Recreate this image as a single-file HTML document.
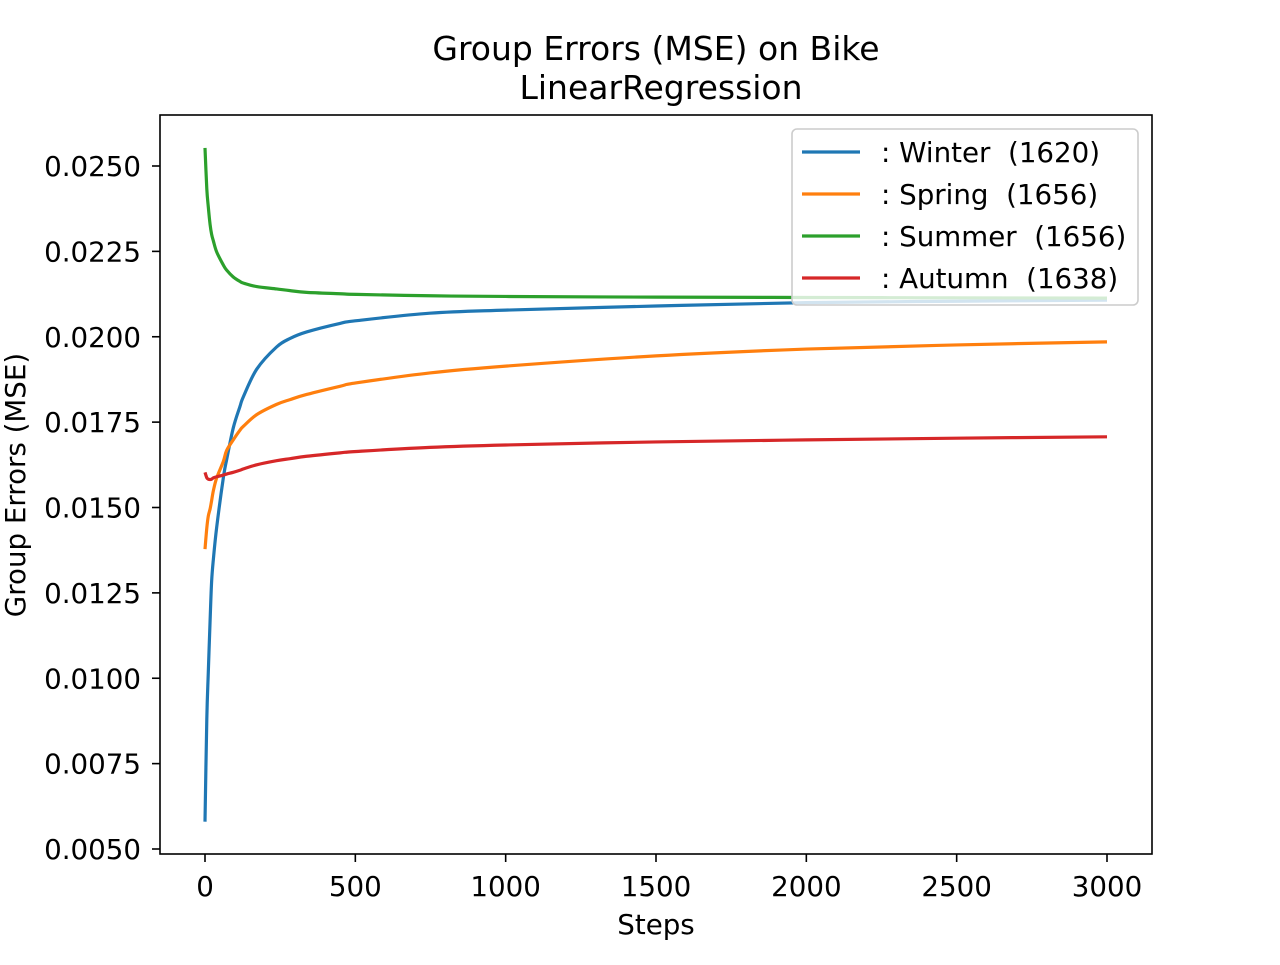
<!DOCTYPE html>
<html><head><meta charset="utf-8"><style>
body{margin:0;background:#fff}
svg text{font-family:"DejaVu Sans","Liberation Sans",sans-serif;fill:#000}
</style></head><body>
<svg id="chart" width="1280" height="960">
<text x="656" y="60" font-size="33" text-anchor="middle">Group Errors (MSE) on Bike</text>
<text x="661" y="99" font-size="33" text-anchor="middle">LinearRegression</text>
<text x="656" y="934" font-size="27.7" text-anchor="middle">Steps</text>
<text transform="translate(25,485) rotate(-90)" font-size="27.7" text-anchor="middle">Group Errors (MSE)</text>
<g id="ticks"></g>
<g id="lines"></g>
<rect x="160" y="115" width="992" height="739" fill="none" stroke="#000" stroke-width="1.6"/>
<g id="legend"></g>
</svg>
<script>
const xTicks=[0,500,1000,1500,2000,2500,3000];
const yTicks=[0.0050,0.0075,0.0100,0.0125,0.0150,0.0175,0.0200,0.0225,0.0250];
const steps=[0,6,11,17,22,28,39,61,72,94,116,128,172,238,283,338,449,504,748,1000,1500,2000,2500,3000];
const winter=[0.0058,0.0088,0.01018,0.0117,0.01283,0.0135,0.01443,0.01587,0.0164,0.01733,0.01795,0.01825,0.01905,0.0197,0.01995,0.02014,0.02039,0.02047,0.02069,0.02078,0.0209,0.021,0.02104,0.02107];
const spring=[0.01378,0.0144,0.01475,0.01496,0.0152,0.0155,0.01587,0.01635,0.01667,0.01698,0.01726,0.01738,0.01772,0.01802,0.01816,0.01831,0.01855,0.01865,0.01894,0.01914,0.01944,0.01964,0.01976,0.01985];
const summer=[0.02553,0.02433,0.0238,0.02328,0.023,0.0228,0.02248,0.0221,0.02195,0.02175,0.02162,0.02157,0.02147,0.0214,0.02135,0.0213,0.02126,0.02124,0.0212,0.02118,0.02116,0.02115,0.02114,0.02113];
const autumn=[0.01603,0.01587,0.01583,0.01582,0.01583,0.01587,0.0159,0.01595,0.01598,0.01603,0.01609,0.01613,0.01625,0.01637,0.01643,0.0165,0.0166,0.01664,0.01676,0.01683,0.01692,0.01698,0.01703,0.01707];
const names=[": Winter  (1620)",": Spring  (1656)",": Summer  (1656)",": Autumn  (1638)"];
const colors=["#1f77b4","#ff7f0e","#2ca02c","#d62728"];
const series=[winter,spring,summer,autumn];
const ns="http://www.w3.org/2000/svg";
const X=v=>205+v*(1107-205)/3000;
const Y=v=>849-(v-0.005)*(849-166)/0.02;
const tg=document.getElementById('ticks');
xTicks.forEach(t=>{
 const l=document.createElementNS(ns,'line');
 
 
 l.setAttribute('x1',X(t));l.setAttribute('x2',X(t));l.setAttribute('y1',854);l.setAttribute('y2',862);l.setAttribute('stroke','#000');l.setAttribute('stroke-width','1.6');tg.appendChild(l);
 const tx=document.createElementNS(ns,'text');
 
 
 tx.setAttribute('x',X(t));tx.setAttribute('y',896);tx.setAttribute('font-size','27.7');tx.setAttribute('text-anchor','middle');tx.textContent=t;tg.appendChild(tx);
});
yTicks.forEach(t=>{
 const l=document.createElementNS(ns,'line');
 
 
 l.setAttribute('x1',152);l.setAttribute('x2',160);l.setAttribute('y1',Y(t));l.setAttribute('y2',Y(t));l.setAttribute('stroke','#000');l.setAttribute('stroke-width','1.6');tg.appendChild(l);
 const tx=document.createElementNS(ns,'text');
 
 
 tx.setAttribute('x',141);tx.setAttribute('y',Y(t)+10);tx.setAttribute('font-size','27.7');tx.setAttribute('text-anchor','end');tx.textContent=t.toFixed(4);tg.appendChild(tx);
});
function curve(pts){
 let d='M'+pts[0][0]+','+pts[0][1];
 for(let i=0;i<pts.length-1;i++){
  const p0=pts[Math.max(0,i-1)],p1=pts[i],p2=pts[i+1],p3=pts[Math.min(pts.length-1,i+2)];
  const c1x=p1[0]+(p2[0]-p0[0])/6,c1y=p1[1]+(p2[1]-p0[1])/6;
  const c2x=p2[0]-(p3[0]-p1[0])/6,c2y=p2[1]-(p3[1]-p1[1])/6;
  d+=' C'+c1x+','+c1y+' '+c2x+','+c2y+' '+p2[0]+','+p2[1];
 }
 return d;
}
const lg=document.getElementById('lines');
series.forEach((s,i)=>{
 const p=document.createElementNS(ns,'path');
 
 
 p.setAttribute('d',curve(s.map((v,j)=>[X(steps[j]),Y(v)])));
 p.setAttribute('fill','none');p.setAttribute('stroke',colors[i]);p.setAttribute('stroke-width','3.2');p.setAttribute('stroke-linejoin','round');lg.appendChild(p);
});
const leg=document.getElementById('legend');
const box=document.createElementNS(ns,'rect');


box.setAttribute('x',792);box.setAttribute('y',129);box.setAttribute('width',346);box.setAttribute('height',176);box.setAttribute('rx',5);box.setAttribute('fill','rgba(255,255,255,0.8)');box.setAttribute('stroke','#ccc');box.setAttribute('stroke-width','1.6');leg.appendChild(box);
names.forEach((n,i)=>{
 const y=152+i*42;
 const l=document.createElementNS(ns,'line');
 
 
 l.setAttribute('x1',802);l.setAttribute('x2',860);l.setAttribute('y1',y);l.setAttribute('y2',y);l.setAttribute('stroke',colors[i]);l.setAttribute('stroke-width','3.2');leg.appendChild(l);
 const t=document.createElementNS(ns,'text');
 
 
 t.setAttribute('x',881);t.setAttribute('y',y+10);t.setAttribute('font-size','27.7');t.style.whiteSpace='pre';t.textContent=n;leg.appendChild(t);
});
</script>
</body></html>
